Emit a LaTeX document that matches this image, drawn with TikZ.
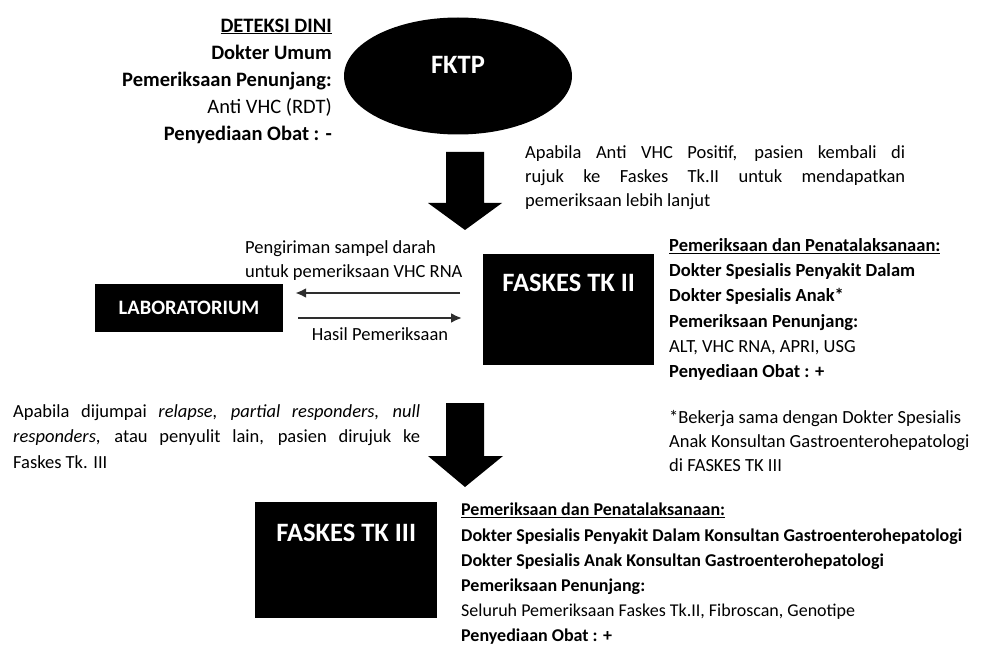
\documentclass[tikz,border=0pt]{standalone}
\usepackage{fontspec}
\setmainfont{Carlito}
\usetikzlibrary{arrows.meta, positioning, shapes.geometric}

\begin{document}
\begin{tikzpicture}[x=1pt, y=-1pt,
    font=\fontsize{18.5}{25.3}\selectfont,
    blackbox/.style={rectangle, fill=black, inner sep=0pt, text=white,
        font=\fontsize{26.5}{30}\selectfont\bfseries, align=center},
    infotext/.style={anchor=north west, inner sep=0pt, align=left},
    parabox/.style={anchor=north west, inner sep=0pt, align=justify},
    bigdown/.style={fill=black},
    arrow/.style={-{Latex[length=11pt, width=10pt]}, line width=2.4pt,
        draw=black!82}
]
\useasboundingbox (0,0) rectangle (997,647);
% top: FKTP and early detection
\node[ellipse, fill=black, text=white, inner sep=0pt,
    minimum width=228, minimum height=117, text height=6, text depth=11,
    font=\fontsize{26.5}{30}\selectfont\bfseries] (fktp) at (458,76) {FKTP};
\node[anchor=north east, inner sep=0pt, align=right,
    font=\fontsize{20.5}{27}\selectfont] (dini) at (332,18.5)
    {\textbf{\underline{DETEKSI DINI}}\\
     \textbf{Dokter Umum}\\
     \textbf{Pemeriksaan Penunjang:}\\
     Anti VHC (RDT)\\
     \textbf{Penyediaan Obat : -}};
\node[parabox, text width=380, font=\fontsize{18.5}{24.2}\selectfont]
    (rujuk2) at (525,145)
    {Apabila Anti VHC Positif, pasien kembali di\linebreak
     rujuk ke Faskes Tk.II untuk mendapatkan\linebreak
     pemeriksaan lebih lanjut};
% middle: FASKES TK II and laboratory
\node[blackbox, minimum width=171, text height=37.5, text depth=73.5,
    anchor=north west] (fas2) at (483,254) {FASKES TK II};
\node[blackbox, minimum width=188, minimum height=48,
    font=\fontsize{20.5}{24}\selectfont\bfseries] (lab) at (189,308) {LABORATORIUM};
\node[infotext] (info2) at (669,238)
    {\textbf{\underline{Pemeriksaan dan Penatalaksanaan:}}\\
     \textbf{Dokter Spesialis Penyakit Dalam}\\
     \textbf{Dokter Spesialis Anak*}\\
     \textbf{Pemeriksaan Penunjang:}\\
     ALT, VHC RNA, APRI, USG\\
     \textbf{Penyediaan Obat : +}};
\node[infotext, font=\fontsize{18.5}{24}\selectfont] (note) at (669,410)
    {*Bekerja sama dengan Dokter Spesialis\\
     Anak Konsultan Gastroenterohepatologi\\
     di FASKES TK III};
\node[infotext, font=\fontsize{18.5}{24}\selectfont] (kirim) at (245,240)
    {Pengiriman sampel darah\\untuk pemeriksaan VHC RNA};
\node[inner sep=0pt] (hasil) at (380,334) {Hasil Pemeriksaan};
% bottom: FASKES TK III
\node[parabox, text width=407, font=\fontsize{18.5}{25.5}\selectfont]
    (rujuk3) at (13,404)
    {Apabila dijumpai \textit{relapse, partial responders, null}\linebreak
     \textit{responders}, atau penyulit lain, pasien dirujuk ke\linebreak
     Faskes Tk. III};
\node[blackbox, minimum width=182, text height=39.5, text depth=76.5,
    anchor=north west] (fas3) at (255,502) {FASKES TK III};
\node[infotext, font=\fontsize{18}{25.2}\selectfont] (info3) at (461,503)
    {\textbf{\underline{Pemeriksaan dan Penatalaksanaan:}}\\
     \textbf{Dokter Spesialis Penyakit Dalam Konsultan Gastroenterohepatologi}\\
     \textbf{Dokter Spesialis Anak Konsultan Gastroenterohepatologi}\\
     \textbf{Pemeriksaan Penunjang:}\\
     Seluruh Pemeriksaan Faskes Tk.II, Fibroscan, Genotipe\\
     \textbf{Penyediaan Obat : +}};
% block arrows
\fill[bigdown] (446,152) -- (484,152) -- (484,203) -- (502,203)
    -- (465,230) -- (428,203) -- (446,203) -- cycle;
\fill[bigdown] (446,403) -- (484,403) -- (484,456) -- (503,456)
    -- (465,487) -- (428,456) -- (446,456) -- cycle;
% sample and result arrows
\draw[arrow, shorten <=23pt, shorten >=12pt]
    ([yshift=15]fas2.west |- lab.center) -- ([yshift=15]lab.east);
\draw[arrow, shorten <=15pt, shorten >=21pt]
    ([yshift=-10]lab.east) -- ([yshift=-10]fas2.west |- lab.center);
\end{tikzpicture}
\end{document}
